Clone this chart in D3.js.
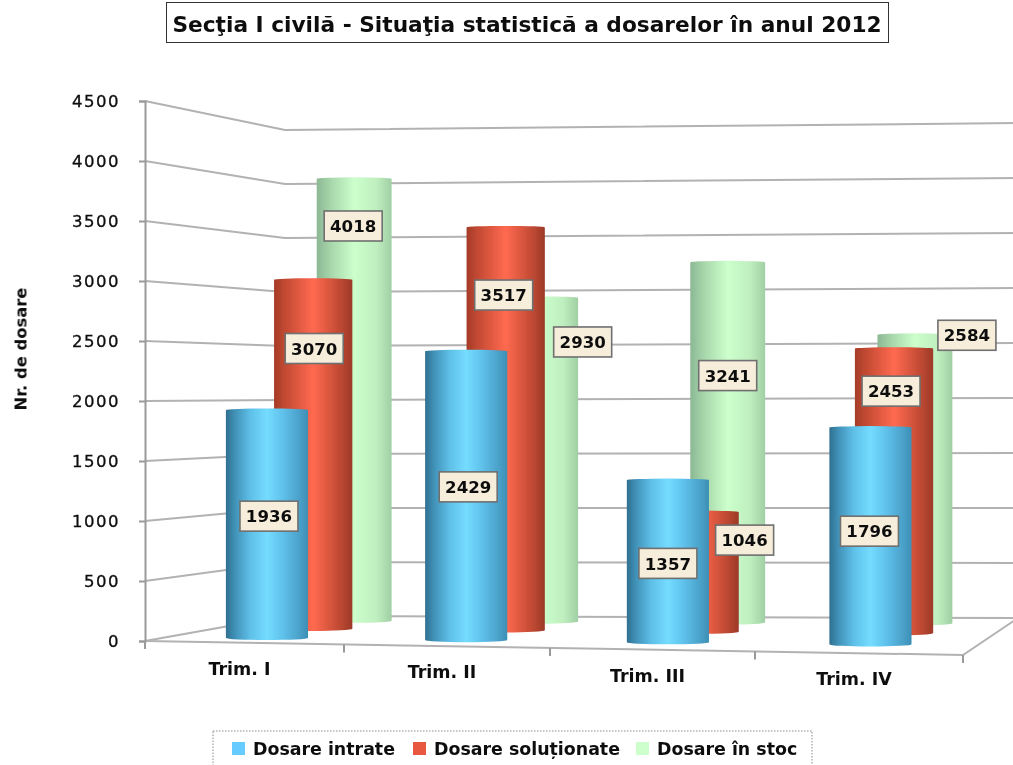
<!DOCTYPE html>
<html><head><meta charset="utf-8">
<script src="https://cdn.jsdelivr.net/npm/d3@7"></script>
<style>html,body{margin:0;padding:0;background:#fff;overflow:hidden}svg{display:block}text{font-family:"DejaVu Sans",sans-serif}</style>
</head><body><svg id="c" width="1013" height="765"></svg>
<script>
const categories = ["Trim. I","Trim. II","Trim. III","Trim. IV"];
const seriesNames = ["Dosare intrate","Dosare soluționate","Dosare în stoc"];
const dosareIntrate = [1936,2429,1357,1796];
const dosareSolutionate = [3070,3517,1046,2453];
const dosareInStoc = [4018,2930,3241,2584];
const yTicks = [0,500,1000,1500,2000,2500,3000,3500,4000,4500];
const titleText = "Secţia I civilă - Situaţia statistică a dosarelor în anul 2012";
const yTitle = "Nr. de dosare";

const seriesValues = [dosareIntrate,dosareSolutionate,dosareInStoc];
const svg = d3.select("#c");
const defs = svg.append("defs");
const ramps = [
 [[0,"#2f6f8f"],[.1,"#3f8fb5"],[.3,"#5fc0e8"],[.5,"#74dcff"],[.7,"#5ec0ea"],[.9,"#4aa0c8"],[1,"#3d8fb5"]],
 [[0,"#a53c28"],[.15,"#c44a33"],[.5,"#ff6a50"],[.8,"#c84d36"],[1,"#9c3a28"]],
 [[0,"#8cb894"],[.2,"#a8d8ac"],[.5,"#ccffcc"],[.8,"#bfeebf"],[1,"#a0cfa4"]]
];
ramps.forEach((r,i)=>{
  const g=defs.append("linearGradient").attr("id","g"+i);
  r.forEach(s=>g.append("stop").attr("offset",s[0]).attr("stop-color",s[1]));
});
const legendColors=["#66ccff","#e8583f","#ccffcc"];
defs.append("filter").attr("id","soft").attr("x",0).attr("y",0).attr("width",1).attr("height",1)
  .append("feGaussianBlur").attr("stdDeviation",0.45);

const root=svg.append("g").attr("filter","url(#soft)");

// projection
const frontX=d3.scaleLinear().domain([0,1,2,3,4]).range([145,344,550,755,963]);
const backX=d3.scaleLinear().domain([0,4]).range([285,1018]);
const frontFloor=d3.scaleLinear().domain([0,4]).range([641,655]);
const barFrontFloor=d3.scaleLinear().domain([0,4]).range([641,651]);
const backFloor=d3.scaleLinear().domain([0,4]).range([616,618]);
const frontK=d3.scaleLinear().domain([0,4]).range([.120,.1245]);
const backK=d3.scaleLinear().domain([0,4]).range([.108,.110]);
const mix=(a,b,t)=>a+(b-a)*t;
const depths=[.17,.52,.83];
const radius=d3.scaleLinear().domain([0,1]).range([42,36.5]);
const yFront=d3.scaleLinear().domain([0,4500]).range([641,101]);
const yBackL=d3.scaleLinear().domain([0,4500]).range([616,130]);
const yBackR=d3.scaleLinear().domain([0,4500]).range([618,123]);
const gridColor="#b2b2b2", axisColor="#9a9a9a";

// grid
const line=d3.line();
root.append("g").selectAll("path").data(yTicks).join("path")
  .attr("d",v=>line([[frontX(0),yFront(v)],[backX(0),yBackL(v)],[backX(4),yBackR(v)]]))
  .attr("fill","none").attr("stroke",gridColor).attr("stroke-width",2);
// floor
root.append("path").attr("d",line([[backX(4),backFloor(4)],[frontX(4),frontFloor(4)],[frontX(0),frontFloor(0)]]))
  .attr("fill","none").attr("stroke",gridColor).attr("stroke-width",2);
// y axis
const ya=root.append("g").attr("transform","translate(145,0)")
  .call(d3.axisLeft(yFront).tickValues(yTicks).tickSize(6).tickPadding(19).tickFormat(d3.format("d")));
ya.selectAll("path,line").attr("stroke",axisColor).attr("stroke-width",2);
ya.selectAll("text").attr("font-size",16.5).attr("font-weight",400).attr("fill","#111").attr("letter-spacing",1.5)
  .style("font-family",'"DejaVu Sans"').attr("stroke","#111").attr("stroke-width",.35);
// x ticks
root.append("g").selectAll("line").data(d3.range(5)).join("line")
  .attr("x1",u=>frontX(u)).attr("x2",u=>frontX(u))
  .attr("y1",u=>frontFloor(u)).attr("y2",u=>frontFloor(u)+8)
  .attr("stroke",axisColor).attr("stroke-width",2);
// x labels
root.append("g").selectAll("text").data(categories).join("text")
  .attr("x",(d,i)=>frontX(i+.5)-5).attr("y",(d,i)=>frontFloor(i+.5)+32)
  .attr("text-anchor","middle").attr("font-size",17.5).attr("font-weight",700).attr("fill","#111").text(d=>d);

// bars
function bar(c,s){
  const u=c+.5,d=depths[s],v=seriesValues[s][c];
  const cx=mix(frontX(u),backX(u),d), base=mix(barFrontFloor(u),backFloor(u),d);
  const k=mix(frontK(u),backK(u),d);
  const y=d3.scaleLinear().domain([0,4500]).range([base,base-4500*k]);
  return {c,s,v,cx,base,top:y(v),rx:radius(d),mid:(y(v)+base)/2};
}
const bars=[];
[2,1,0].forEach(s=>categories.forEach((_,c)=>bars.push(bar(c,s))));
const ryTop=1.5, ryBottom=2.2;
root.append("g").selectAll("path").data(bars).join("path")
  .attr("d",b=>`M${b.cx-b.rx},${b.top+ryTop}A${b.rx},${ryTop} 0 0 1 ${b.cx+b.rx},${b.top+ryTop}L${b.cx+b.rx},${b.base}A${b.rx},${ryBottom} 0 0 1 ${b.cx-b.rx},${b.base}Z`)
  .attr("fill",b=>`url(#g${b.s})`);

// labels: offset from the middle of each bar
const labelNudgeX=[[2,2,0,-1],[1,-2,45,-3],[-1,42,0,52]];
const labelNudgeY=[[-7,-8,3,-4],[-105,-133,-31,-99],[-173,-117,-66,-143]];
const lw=58,lh=30;
const lab=root.append("g").selectAll("g").data(bars).join("g")
  .attr("transform",b=>`translate(${b.cx+labelNudgeX[b.s][b.c]},${b.mid+labelNudgeY[b.s][b.c]})`);
lab.append("rect").attr("x",-lw/2).attr("y",-lh/2).attr("width",lw).attr("height",lh)
  .attr("fill","#f6eddb").attr("stroke","#6f6f6f").attr("stroke-width",1.6);
lab.append("text").attr("text-anchor","middle").attr("dy","0.37em").attr("font-size",16.6).attr("font-weight",700)
  .attr("fill","#111").text(b=>b.v);

// title
root.append("rect").attr("x",166.5).attr("y",2.5).attr("width",722).attr("height",40).attr("fill","#fff").attr("stroke","#333").attr("stroke-width",1);
root.append("text").attr("x",527).attr("y",32).attr("text-anchor","middle").attr("font-size",21.7).attr("font-weight",700).attr("fill","#111").text(titleText);

// y title
root.append("text").attr("transform","translate(26.5,349) rotate(-90)").attr("text-anchor","middle").attr("font-size",16.4).attr("font-weight",700).attr("fill","#111").text(yTitle);

// legend
root.append("rect").attr("x",213).attr("y",731).attr("width",599).attr("height",50).attr("fill","none").attr("stroke","#888").attr("stroke-width",1).attr("stroke-dasharray","1.5 1.5");
const legX=d3.scaleOrdinal().domain(seriesNames).range([232,413,636]);
const leg=root.append("g").selectAll("g").data(seriesNames).join("g").attr("transform",d=>`translate(${legX(d)},742)`);
leg.append("rect").attr("width",13).attr("height",13).attr("fill",(d,i)=>legendColors[i]);
leg.append("text").attr("x",21).attr("y",13).attr("font-size",17.4).attr("font-weight",700).attr("fill","#111").text(d=>d);
</script></body></html>
